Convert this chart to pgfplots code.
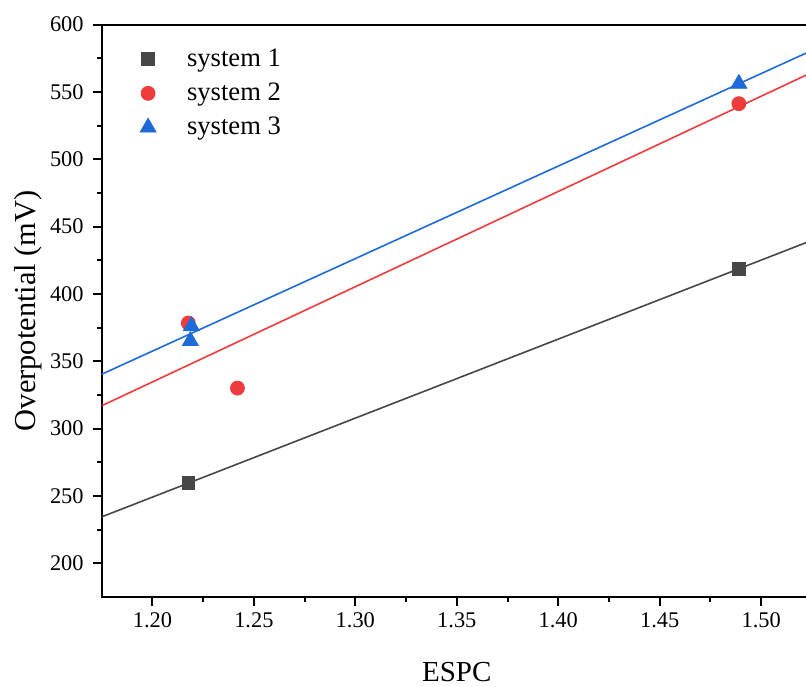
\documentclass[border=0pt]{standalone}
\usepackage{fontspec}
\setmainfont{Liberation Serif}
\usepackage{pgfplots}
\pgfplotsset{compat=1.18}
\definecolor{sgray}{HTML}{474747}
\definecolor{sred}{HTML}{EF3B3B}
\definecolor{sblue}{HTML}{1E6AD8}
\begin{document}
\begin{tikzpicture}
\begin{axis}[
  scale only axis, width=355.1pt, height=286.2pt,
  xmin=1.175, xmax=1.525, ymin=175, ymax=600,
  xtick={1.20,1.25,1.30,1.35,1.40,1.45,1.50},
  ytick={200,250,300,350,400,450,500,550,600},
  minor x tick num=1, minor y tick num=1,
  xtick pos=left, ytick pos=left,
  tick align=outside,
  major tick length=4.5pt, minor tick length=2.3pt,
  axis line style={line width=1pt, black},
  every tick/.style={line width=1pt, black},
  /pgf/number format/assume math mode=true,
  x tick label style={/pgf/number format/fixed, /pgf/number format/fixed zerofill, /pgf/number format/precision=2},
  y tick label style={xshift=-1pt},
  tick label style={font=\fontsize{11.2}{13}\selectfont},
  xlabel={ESPC}, ylabel={Overpotential (mV)},
  xlabel style={font=\fontsize{14.5}{17}\selectfont, at={(axis description cs:0.5,0)}, anchor=base, yshift=-42.3pt},
  ylabel style={font=\fontsize{15.2}{18}\selectfont, at={([xshift=-33.3pt]axis description cs:0,0.5)}, anchor=base},
  legend style={at={(axis description cs:0,1)}, anchor=north west, xshift=11pt, yshift=-8pt,
    draw=none, fill=none, font=\fontsize{13.3}{15}\selectfont, row sep=2.75pt},
  legend cell align=left,
  legend image code/.code={\path[draw=none,fill=none] (0pt,0pt) -- (26.5pt,0pt); \draw[#1] plot coordinates {(9pt,0pt)};},
]
\addplot[sgray, line width=0.8pt, forget plot] coordinates {(1.175,234.5) (1.525,439.8)};
\addplot[sred, line width=0.8pt, forget plot] coordinates {(1.175,317.0) (1.525,564.5)};
\addplot[sblue, line width=0.8pt, forget plot] coordinates {(1.175,340.4) (1.525,580.8)};
\addplot[only marks, mark=square*, mark size=3.2pt, color=sgray] coordinates {(1.2177,259.5) (1.489,418.6)};
\addlegendentry{system 1}
\addplot[only marks, mark=*, mark size=3.5pt, color=sred] coordinates {(1.2177,378.4) (1.2419,330.1) (1.489,541.3)};
\addlegendentry{system 2}
\addplot[only marks, mark=triangle*, mark size=4.6pt, color=sblue] coordinates {(1.2192,376.2) (1.2187,365.1) (1.489,556.1)};
\addlegendentry{system 3}
\end{axis}
\pgfresetboundingbox
\path[use as bounding box] ([shift={(-50.85pt,-44.5pt)}]current axis.south west) rectangle ([shift={(352.15pt,298.5pt)}]current axis.south west);
\end{tikzpicture}
\end{document}
